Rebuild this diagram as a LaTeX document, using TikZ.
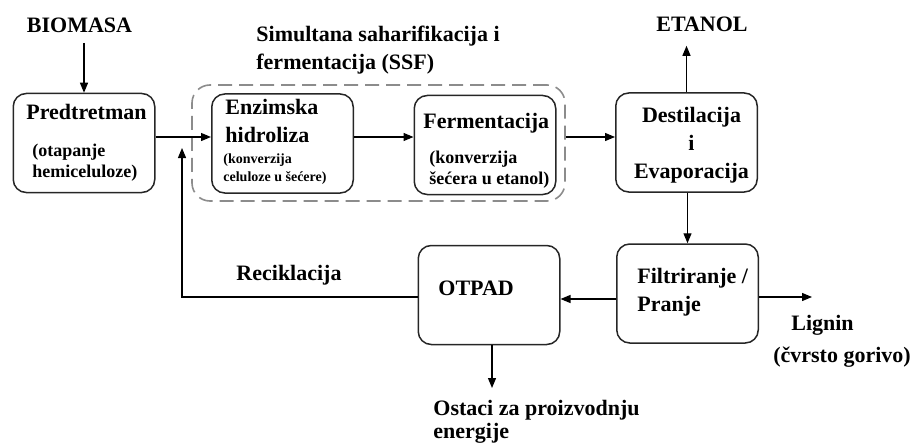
\documentclass[tikz,border=0pt]{standalone}
\usepackage{fontspec}
\setmainfont{Liberation Serif}
\usetikzlibrary{arrows.meta}

\begin{document}
\begin{tikzpicture}[x=0.5pt,y=-0.5pt,
    box/.style={draw=black!85,line width=0.75pt,rounded corners=6.5pt,minimum width=70.75pt,minimum height=49.5pt,inner sep=0pt},
    ssfbox/.style={draw=black!45,line width=0.8pt,dash pattern=on 7pt off 3.5pt,rounded corners=9pt,minimum width=186.5pt,minimum height=58pt,inner sep=0pt},
    arr/.style={-{Triangle[length=5pt,width=4pt]},line width=0.6pt},
    txt/.style={font=\bfseries\fontsize{11}{14}\selectfont,inner sep=0pt},
    sub/.style={font=\bfseries\fontsize{9}{10.5}\selectfont,inner sep=0pt,align=left},
    tiny/.style={font=\bfseries\fontsize{7}{9}\selectfont,inner sep=0pt,align=left}]

    \useasboundingbox (0,0) rectangle (914,444);

    % Process boxes
    \node[box] (pre) at (84,143) {};
    \node[box] (enz) at (282.5,143.5) {};
    \node[box] (fer) at (485,145) {};
    \node[box] (des) at (686.5,142.5) {};
    \node[box] (fil) at (687.5,293.5) {};
    \node[box] (otp) at (489,295) {};
    \node[ssfbox] (ssf) at (378.5,143) {};

    % Box texts
    \node[txt,anchor=west] (pretitle) at (26,112) {Predtretman};
    \node[sub,anchor=west] (presub) at (32,162.5) {(otapanje\\hemiceluloze)};
    \node[txt,anchor=west,align=left] (enztitle) at (225,121) {Enzimska\\hidroliza};
    \node[tiny,anchor=west] (enzsub) at (223,169) {(konverzija\\celuloze u šećere)};
    \node[txt,anchor=west] (fertitle) at (423,123) {Fermentacija};
    \node[sub,anchor=west] (fersub) at (429,170) {(konverzija\\šećera u etanol)};
    \node[txt,align=center] (destitle) at (691.5,145) {Destilacija\\i\\Evaporacija};
    \node[txt,anchor=west,align=left] (filtitle) at (637,292) {Filtriranje /\\Pranje};
    \node[txt,anchor=west] (otptitle) at (438,288) {OTPAD};

    % Inputs, outputs and labels
    \node[txt] (bio) at (79.5,25) {BIOMASA};
    \node[txt] (eta) at (702,24) {ETANOL};
    \node[txt,anchor=west,align=left] (ssflabel) at (256,50.5) {Simultana saharifikacija i\\fermentacija (SSF)};
    \node[txt] (rec) at (289,275) {Reciklacija};
    \node[txt] (lig) at (822.5,325) {Lignin};
    \node[txt] (ligsub) at (842,357) {(čvrsto gorivo)};
    \node[txt,anchor=west,align=left,font=\bfseries\fontsize{11}{11.5}\selectfont] (ost) at (433,421.5) {Ostaci za proizvodnju\\energije};

    % Helper coordinates
    \coordinate (flow) at (0,137);
    \coordinate (back) at (0,299);
    \coordinate (recturn) at (182,297);
    \coordinate (rectip) at (182,148);
    \coordinate (ligend) at (812,297);
    \coordinate (ostend) at (492,388);

    % Main flow
    \draw[arr,shorten <=5pt] (pre.north |- bio.south) -- (pre.north);
    \draw[arr] (pre.east |- flow) -- (enz.west |- flow);
    \draw[arr] (enz.east |- flow) -- (fer.west |- flow);
    \draw[arr] (ssf.east |- flow) -- (des.west |- flow);
    \draw[arr,shorten >=7pt] (des.north) -- (des.north |- eta.south);
    \draw[arr] (des.south -| fil.north) -- (fil.north);
    \draw[arr] (fil.west |- back) -- (otp.east |- back);
    \draw[arr] (fil.east |- ligend) -- (ligend);
    \draw[arr] (otp.south -| ostend) -- (ostend);

    % Recycling
    \draw[arr] (otp.west |- recturn) -- (recturn) -- (rectip);
\end{tikzpicture}
\end{document}
